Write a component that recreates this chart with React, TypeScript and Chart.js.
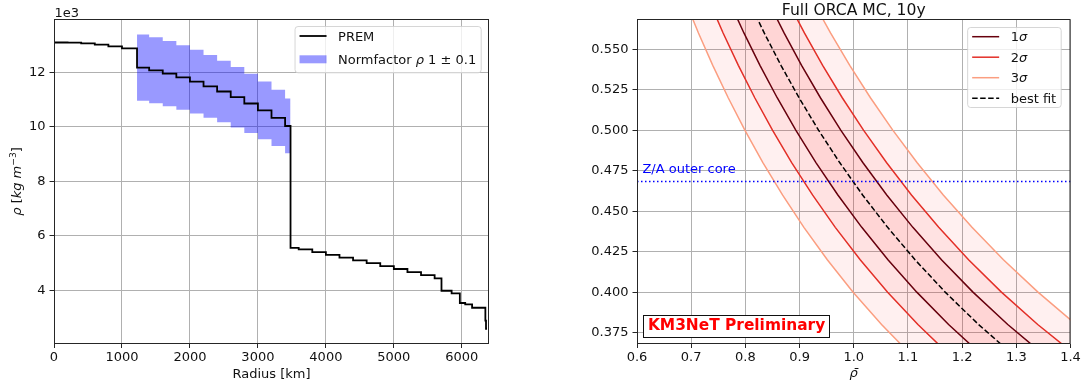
import React, { useEffect, useRef } from 'react';
import { Chart, registerables } from 'chart.js';

Chart.register(...registerables);

// ---------------- Left panel: PREM density profile (kg m^-3) ----------------
const premRadius = [0, 200, 400, 600, 800, 1000, 1221.5, 1400, 1600, 1800, 2000, 2200, 2400, 2600, 2800, 3000, 3200, 3400, 3480, 3600, 3800, 4000, 4200, 4400, 4600, 4800, 5000, 5200, 5400, 5600, 5701, 5850, 5971, 6050, 6151, 6346.6, 6356, 6371];
const premDensity = [13088, 13080, 13054, 13010, 12949, 12871, 12166, 12069, 11947, 11809, 11655, 11483, 11293, 11083, 10853, 10602, 10327, 10029, 5566, 5506, 5407, 5307, 5207, 5106, 5003, 4898, 4790, 4678, 4563, 4445, 3992, 3900, 3543, 3490, 3370, 2900, 2600, 2600];

// Outer-core band: Normfactor rho 1 +/- 0.1
const bandRadius = [1221.5, 1400, 1600, 1800, 2000, 2200, 2400, 2600, 2800, 3000, 3200, 3400, 3480];
const bandUpper = [13383, 13276, 13142, 12990, 12821, 12631, 12422, 12191, 11938, 11662, 11360, 11032, 11032];
const bandLower = [10949, 10862, 10752, 10628, 10490, 10335, 10164, 9975, 9768, 9542, 9294, 9026, 9026];

const leftXTicks = [0, 1000, 2000, 3000, 4000, 5000, 6000];
const leftYTicks = [4000, 6000, 8000, 10000, 12000];
const leftXRange = [0, 6400];
const leftYRange = [2060, 13930];

// ---------------- Right panel: Z/A vs rho-bar contours ----------------
const zaGrid = [0.58, 0.56, 0.54, 0.52, 0.50, 0.48, 0.46, 0.44, 0.42, 0.40, 0.38, 0.36];
const bestFitRho = [0.8060, 0.8348, 0.8657, 0.8990, 0.9350, 0.9740, 1.0163, 1.0625, 1.1131, 1.1688, 1.2303, 1.2986];
const sigma1Low = [0.7698, 0.7973, 0.8269, 0.8587, 0.8930, 0.9302, 0.9707, 1.0148, 1.0631, 1.1163, 1.1750, 1.2403];
const sigma1High = [0.8414, 0.8714, 0.9037, 0.9385, 0.9760, 1.0167, 1.0609, 1.1091, 1.1619, 1.2200, 1.2842, 1.3556];
const sigma2Low = [0.7328, 0.7589, 0.7870, 0.8173, 0.8500, 0.8854, 0.9239, 0.9659, 1.0119, 1.0625, 1.1184, 1.1806];
const sigma2High = [0.8776, 0.9089, 0.9426, 0.9788, 1.0180, 1.0604, 1.1065, 1.1568, 1.2119, 1.2725, 1.3395, 1.4139];
const sigma3Low = [0.6888, 0.7134, 0.7398, 0.7683, 0.7990, 0.8323, 0.8685, 0.9080, 0.9512, 0.9988, 1.0513, 1.1097];
const sigma3High = [0.9241, 0.9571, 0.9926, 1.0308, 1.0720, 1.1167, 1.1652, 1.2182, 1.2762, 1.3400, 1.4105, 1.4889];

const zaOuterCore = 0.4683;
const zaLineRho = [0.6, 1.4];
const zaLabelPos = { x: 0.61, y: 0.4733 };

const rightXTicks = [0.6, 0.7, 0.8, 0.9, 1.0, 1.1, 1.2, 1.3, 1.4];
const rightYTicks = [0.375, 0.4, 0.425, 0.45, 0.475, 0.5, 0.525, 0.55];
const rightXRange = [0.6, 1.4];
const rightYRange = [0.3683, 0.5683];

// ---------------- styling helpers ----------------
const FAM = '"DejaVu Sans", "Liberation Sans", sans-serif';
const FS = 13;
const TXT = '#111';
const C1 = '#67000d';
const C2 = '#e32f27';
const C3 = '#fb9e80';
const BAND = 'rgba(255,30,30,0.065)';

type Seg = { t: string; it?: boolean; bold?: boolean; sup?: boolean };

function fontStr(size: number, it?: boolean, bold?: boolean) {
  return `${it ? 'italic ' : ''}${bold ? 'bold ' : ''}${size}px ${FAM}`;
}
function richWidth(ctx: CanvasRenderingContext2D, segs: Seg[], size: number) {
  let w = 0;
  for (const s of segs) {
    ctx.font = fontStr(s.sup ? size * 0.7 : size, s.it, s.bold);
    w += ctx.measureText(s.t).width;
  }
  return w;
}
function drawRich(ctx: CanvasRenderingContext2D, segs: Seg[], x: number, y: number, size: number, color: string, align: 'left' | 'center' | 'right') {
  const w = richWidth(ctx, segs, size);
  let cx = align === 'left' ? x : align === 'center' ? x - w / 2 : x - w;
  ctx.fillStyle = color;
  ctx.textAlign = 'left';
  ctx.textBaseline = 'alphabetic';
  for (const s of segs) {
    const sz = s.sup ? size * 0.7 : size;
    ctx.font = fontStr(sz, s.it, s.bold);
    ctx.fillText(s.t, cx, s.sup ? y - size * 0.4 : y);
    cx += ctx.measureText(s.t).width;
  }
  return w;
}
function drawFrame(ctx: CanvasRenderingContext2D, ca: any) {
  ctx.save();
  ctx.strokeStyle = '#262626';
  ctx.lineWidth = 1;
  ctx.strokeRect(ca.left + 0.5, ca.top, ca.right - ca.left - 1, ca.bottom - ca.top);
  ctx.restore();
}
type LegRow = { segs: Seg[]; kind: 'line' | 'patch'; color: string; dash?: number[]; lw?: number; cy: number };
function drawLegend(ctx: CanvasRenderingContext2D, right: number, top: number, bottom: number, rows: LegRow[]) {
  ctx.save();
  const textW = Math.max(...rows.map((r) => richWidth(ctx, r.segs, FS)));
  const left = right - (43.5 + textW + 5.5);
  ctx.beginPath();
  (ctx as any).roundRect(left + 0.5, top + 0.5, right - left - 1, bottom - top - 1, 3);
  ctx.fillStyle = 'rgba(255,255,255,0.8)';
  ctx.fill();
  ctx.strokeStyle = 'rgba(204,204,204,0.8)';
  ctx.lineWidth = 1;
  ctx.stroke();
  for (const r of rows) {
    const hx0 = left + 5;
    const hx1 = left + 32;
    if (r.kind === 'line') {
      ctx.beginPath();
      ctx.setLineDash(r.dash || []);
      ctx.strokeStyle = r.color;
      ctx.lineWidth = r.lw || 1.5;
      ctx.moveTo(hx0, r.cy);
      ctx.lineTo(hx1, r.cy);
      ctx.stroke();
      ctx.setLineDash([]);
    } else {
      ctx.fillStyle = r.color;
      ctx.fillRect(hx0, r.cy - 4, hx1 - hx0, 8);
    }
    drawRich(ctx, r.segs, left + 43.5, r.cy + 4.6, FS, TXT, 'left');
  }
  ctx.restore();
}

const gridOpts = { color: '#b0b0b0', lineWidth: 1, tickColor: '#262626', tickLength: 4.5, tickWidth: 1, drawTicks: true };
const tickFont = { family: FAM, size: FS };

// ---------------- Left chart ----------------
const leftAnnot = {
  id: 'leftAnnot',
  afterDraw(chart: any) {
    const { ctx, chartArea: ca } = chart;
    ctx.save();
    drawFrame(ctx, ca);
    drawRich(ctx, [{ t: '1e3' }], ca.left + 0.5, ca.top - 3, FS, TXT, 'left');
    ctx.save();
    ctx.translate(21, (ca.top + ca.bottom) / 2);
    ctx.rotate(-Math.PI / 2);
    drawRich(ctx, [{ t: 'ρ', it: true }, { t: ' [' }, { t: 'kg', it: true }, { t: ' ' }, { t: 'm', it: true }, { t: '−3', sup: true }, { t: ']' }], 0, 0, FS, TXT, 'center');
    ctx.restore();
    drawRich(ctx, [{ t: 'Radius [km]' }], (ca.left + ca.right) / 2, 378, FS, TXT, 'center');
    drawLegend(ctx, ca.right - 7.3, ca.top + 6.5, ca.top + 53.8, [
      { segs: [{ t: 'PREM' }], kind: 'line', color: '#000', lw: 1.8, cy: ca.top + 16.5 },
      { segs: [{ t: 'Normfactor ' }, { t: 'ρ', it: true }, { t: ' 1 ± 0.1' }], kind: 'patch', color: 'rgba(0,0,255,0.4)', cy: ca.top + 39.8 },
    ]);
    ctx.restore();
  },
};

function LeftChart() {
  const ref = useRef<HTMLCanvasElement>(null);
  useEffect(() => {
    const canvas = ref.current as HTMLCanvasElement;
    const chart = new Chart(canvas, {
      type: 'line',
      data: {
        datasets: [
          {
            label: 'PREM',
            data: premRadius.map((r, i) => ({ x: r, y: premDensity[i] })),
            borderColor: '#000',
            borderWidth: 1.8,
            stepped: true,
            pointRadius: 0,
            fill: false,
            order: 1,
          },
          {
            label: 'band upper',
            data: bandRadius.map((r, i) => ({ x: r, y: bandUpper[i] })),
            borderColor: 'rgba(0,0,0,0)',
            borderWidth: 0,
            backgroundColor: 'rgba(0,0,255,0.4)',
            stepped: true,
            pointRadius: 0,
            fill: '+1',
            order: 5,
          },
          {
            label: 'band lower',
            data: bandRadius.map((r, i) => ({ x: r, y: bandLower[i] })),
            borderColor: 'rgba(0,0,0,0)',
            borderWidth: 0,
            stepped: true,
            pointRadius: 0,
            fill: false,
            order: 6,
          },
        ] as any,
      },
      options: {
        animation: false,
        responsive: false,
        devicePixelRatio: 1,
        events: [],
        layout: { padding: { left: 0, right: 51, top: 19.5, bottom: 0 } },
        plugins: { legend: { display: false }, tooltip: { enabled: false } },
        scales: {
          x: {
            type: 'linear',
            min: leftXRange[0],
            max: leftXRange[1],
            afterBuildTicks: (s: any) => { s.ticks = leftXTicks.map((v) => ({ value: v })); },
            afterFit: (s: any) => { s.height = 43.5; },
            grid: gridOpts,
            border: { display: false },
            ticks: { font: tickFont, color: TXT, padding: 2, maxRotation: 0, autoSkip: false, callback: (v: any) => String(v) },
          },
          y: {
            type: 'linear',
            min: leftYRange[0],
            max: leftYRange[1],
            afterBuildTicks: (s: any) => { s.ticks = leftYTicks.map((v) => ({ value: v })); },
            afterFit: (s: any) => { s.width = 54; },
            grid: gridOpts,
            border: { display: false },
            ticks: { font: tickFont, color: TXT, padding: 4, autoSkip: false, callback: (v: any) => String(Number(v) / 1000) },
          },
        },
      } as any,
      plugins: [leftAnnot],
    });
    return () => chart.destroy();
  }, []);
  return <canvas ref={ref} width={540} height={387} style={{ position: 'absolute', left: 0, top: 0, width: 540, height: 387 }} />;
}

// ---------------- Right chart ----------------
const rightAnnot = {
  id: 'rightAnnot',
  afterDraw(chart: any) {
    const { ctx, chartArea: ca, scales } = chart;
    ctx.save();
    drawFrame(ctx, ca);
    drawRich(ctx, [{ t: 'Full ORCA MC, 10y' }], (ca.left + ca.right) / 2, 15, 15.6, TXT, 'center');
    ctx.save();
    ctx.translate(586, (ca.top + ca.bottom) / 2);
    ctx.rotate(-Math.PI / 2);
    drawRich(ctx, [{ t: 'Z/A' }], 0, 0, FS, TXT, 'center');
    ctx.restore();
    drawRich(ctx, [{ t: 'ρ\u0304', it: true }], (ca.left + ca.right) / 2, 377, FS, TXT, 'center');
    // Z/A outer core label
    drawRich(ctx, [{ t: 'Z/A outer core' }], scales.x.getPixelForValue(zaLabelPos.x), scales.y.getPixelForValue(zaLabelPos.y), FS, '#0000ff', 'left');
    // KM3NeT box
    const bfs = 15.4;
    ctx.font = fontStr(bfs, false, true);
    const tw = ctx.measureText('KM3NeT Preliminary').width;
    const bx = ca.left + 6.3;
    const by0 = ca.bottom - 28.5;
    const by1 = ca.bottom - 6.2;
    ctx.fillStyle = '#fff';
    ctx.fillRect(bx, by0, tw + 8.5, by1 - by0);
    ctx.strokeStyle = '#111';
    ctx.lineWidth = 1;
    ctx.strokeRect(Math.round(bx) + 0.5, Math.round(by0) + 0.5, Math.round(tw + 8.5), Math.round(by1 - by0));
    drawRich(ctx, [{ t: 'KM3NeT Preliminary', bold: true }], bx + 4.6, ca.bottom - 13.8, bfs, '#ff0000', 'left');
    // legend
    drawLegend(ctx, ca.right - 8.8, ca.top + 7.5, ca.top + 88.5, [
      { segs: [{ t: '1' }, { t: 'σ', it: true }], kind: 'line', color: C1, cy: ca.top + 17.2 },
      { segs: [{ t: '2' }, { t: 'σ', it: true }], kind: 'line', color: C2, cy: ca.top + 37.7 },
      { segs: [{ t: '3' }, { t: 'σ', it: true }], kind: 'line', color: C3, cy: ca.top + 58.2 },
      { segs: [{ t: 'best fit' }], kind: 'line', color: '#000', dash: [5.5, 2.5], cy: ca.top + 78.7 },
    ]);
    ctx.restore();
  },
};

const pts = (xs: number[]) => xs.map((x, i) => ({ x, y: zaGrid[i] }));
const poly = (lo: number[], hi: number[]) => [...pts(lo), ...pts(hi).reverse()];

function lineDs(label: string, xs: number[], color: string, order: number, dash?: number[]) {
  return {
    label,
    data: pts(xs),
    borderColor: color,
    borderWidth: 1.5,
    borderDash: dash || [],
    pointRadius: 0,
    fill: false,
    tension: 0,
    order,
    clip: 0,
  };
}
function bandDs(label: string, lo: number[], hi: number[], order: number) {
  return {
    label,
    data: poly(lo, hi),
    borderColor: 'rgba(0,0,0,0)',
    borderWidth: 0,
    backgroundColor: BAND,
    pointRadius: 0,
    fill: 'shape',
    tension: 0,
    order,
  };
}

function RightChart() {
  const ref = useRef<HTMLCanvasElement>(null);
  useEffect(() => {
    const canvas = ref.current as HTMLCanvasElement;
    const chart = new Chart(canvas, {
      type: 'line',
      data: {
        datasets: [
          lineDs('best fit', bestFitRho, '#000', 1, [5.5, 2.5]),
          lineDs('1σ low', sigma1Low, C1, 2),
          lineDs('1σ high', sigma1High, C1, 2),
          lineDs('2σ low', sigma2Low, C2, 3),
          lineDs('2σ high', sigma2High, C2, 3),
          lineDs('3σ low', sigma3Low, C3, 4),
          lineDs('3σ high', sigma3High, C3, 4),
          {
            label: 'Z/A outer core',
            data: zaLineRho.map((x) => ({ x, y: zaOuterCore })),
            borderColor: '#0000ff',
            borderWidth: 1.5,
            borderDash: [1.5, 2.5],
            pointRadius: 0,
            fill: false,
            order: 0,
            clip: 0,
          },
          bandDs('1σ band', sigma1Low, sigma1High, 28),
          bandDs('2σ band', sigma2Low, sigma2High, 29),
          bandDs('3σ band', sigma3Low, sigma3High, 30),
        ] as any,
      },
      options: {
        animation: false,
        responsive: false,
        devicePixelRatio: 1,
        events: [],
        layout: { padding: { left: 0, right: 14.5, top: 19.5, bottom: 0 } },
        plugins: { legend: { display: false }, tooltip: { enabled: false } },
        scales: {
          x: {
            type: 'linear',
            min: rightXRange[0],
            max: rightXRange[1],
            afterBuildTicks: (s: any) => { s.ticks = rightXTicks.map((v) => ({ value: v })); },
            afterFit: (s: any) => { s.height = 43.5; },
            grid: gridOpts,
            border: { display: false },
            ticks: { font: tickFont, color: TXT, padding: 2, maxRotation: 0, autoSkip: false, callback: (v: any) => Number(v).toFixed(1) },
          },
          y: {
            type: 'linear',
            min: rightYRange[0],
            max: rightYRange[1],
            afterBuildTicks: (s: any) => { s.ticks = rightYTicks.map((v) => ({ value: v })); },
            afterFit: (s: any) => { s.width = 97; },
            grid: gridOpts,
            border: { display: false },
            ticks: { font: tickFont, color: TXT, padding: 4, autoSkip: false, callback: (v: any) => Number(v).toFixed(3) },
          },
        },
      } as any,
      plugins: [rightAnnot],
    });
    return () => chart.destroy();
  }, []);
  return <canvas ref={ref} width={545} height={387} style={{ position: 'absolute', left: 540, top: 0, width: 545, height: 387 }} />;
}

export default function App() {
  useEffect(() => {
    document.body.style.margin = '0';
  }, []);
  return (
    <div style={{ position: 'absolute', left: 0, top: 0, width: 1085, height: 387, background: '#fff', overflow: 'hidden' }}>
      <LeftChart />
      <RightChart />
    </div>
  );
}
